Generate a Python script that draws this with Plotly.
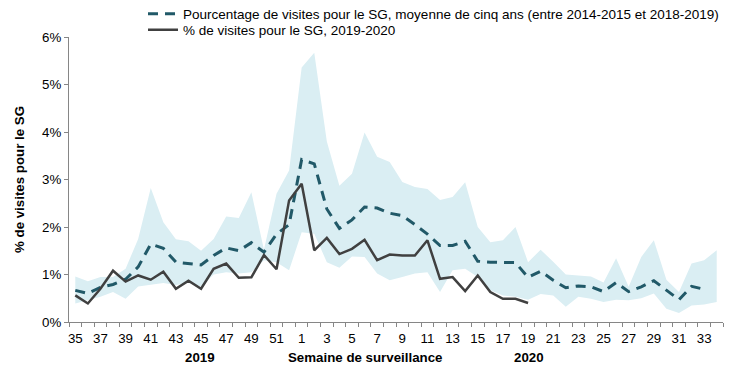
import plotly.graph_objects as go

weeks = [str(w) for w in list(range(35, 53)) + list(range(1, 35))]

current = [0.56, 0.39, 0.70, 1.08, 0.85, 0.98, 0.89, 1.06, 0.70, 0.87, 0.70, 1.12, 1.23, 0.93, 0.94, 1.41, 1.11, 2.56,
           2.91, 1.51, 1.77, 1.43, 1.54, 1.73, 1.30, 1.42, 1.40, 1.40, 1.72, 0.91, 0.945, 0.65, 0.98, 0.63, 0.49, 0.49, 0.40]

average = [0.665, 0.60, 0.73, 0.79, 0.90, 1.16, 1.64, 1.55, 1.26, 1.23, 1.20, 1.40, 1.56, 1.50, 1.67, 1.47, 1.85, 2.05,
           3.42, 3.33, 2.38, 1.97, 2.15, 2.42, 2.40, 2.29, 2.24, 2.05, 1.85, 1.61, 1.61, 1.70, 1.28, 1.26, 1.26, 1.25,
           0.94, 1.07, 0.88, 0.72, 0.76, 0.74, 0.64, 0.83, 0.64, 0.74, 0.87, 0.66, 0.47, 0.75, 0.69, None]

band_upper = [0.96, 0.86, 0.95, 0.95, 1.12, 1.75, 2.82, 2.10, 1.74, 1.70, 1.50, 1.75, 2.22, 2.19, 2.73, 1.52, 2.70, 3.19,
              5.36, 5.67, 3.80, 2.87, 3.12, 3.99, 3.48, 3.37, 2.95, 2.84, 2.80, 2.57, 2.63, 2.94, 2.00, 1.68, 1.72, 2.00,
              1.26, 1.52, 1.27, 1.00, 0.98, 0.96, 0.83, 1.34, 0.74, 1.37, 1.72, 0.89, 0.63, 1.23, 1.30, 1.51]

band_lower = [0.39, 0.46, 0.53, 0.63, 0.49, 0.75, 0.78, 0.82, 0.78, 0.82, 0.75, 1.00, 1.05, 1.02, 1.05, 1.30, 1.26, 1.09,
              1.89, 1.86, 1.26, 1.14, 1.38, 1.37, 1.02, 0.88, 0.95, 1.02, 1.05, 0.63, 1.09, 1.12, 0.95, 0.67, 0.56, 0.53,
              0.47, 0.59, 0.56, 0.32, 0.53, 0.49, 0.42, 0.47, 0.46, 0.50, 0.60, 0.28, 0.19, 0.35, 0.37, 0.42]

x_idx = list(range(len(weeks)))
FONT = "Liberation Sans, Arial, sans-serif"
FS = 13.3

# page body margin offset (browser default 8px)
OFF = 8
W, H = 750, 378
# target plot area in screen px: x 69..723, y 37..321.7
L = 69 - OFF
T = 37 - OFF
pw = 723 - 69
ph = 285
R = W - L - pw
B = H - T - ph

def px2paper_x(px):
    return (px - OFF - L) / pw

def px2paper_y(py):
    return (T + ph - (py - OFF)) / ph

fig = go.Figure()
fig.add_trace(go.Scatter(x=x_idx, y=band_lower, mode="lines", line=dict(width=0, color="#DAEEF3"),
                         showlegend=False, hoverinfo="skip"))
fig.add_trace(go.Scatter(x=x_idx, y=band_upper, mode="lines", line=dict(width=0, color="#DAEEF3"),
                         fill="tonexty", fillcolor="#DAEEF3", showlegend=False, hoverinfo="skip"))
fig.add_trace(go.Scatter(x=x_idx, y=average, mode="lines",
                         name="Pourcentage de visites pour le SG, moyenne de cinq ans (entre 2014-2015 et 2018-2019)",
                         line=dict(color="#215968", width=3, dash="10px,7px"), legend="legend"))
fig.add_trace(go.Scatter(x=x_idx[:len(current)], y=current, mode="lines",
                         name="% de visites pour le SG, 2019-2020",
                         line=dict(color="#404040", width=2.5), legend="legend2"))

leg_common = dict(xanchor="left", yanchor="middle", bgcolor="rgba(0,0,0,0)",
                  font=dict(size=13.5, family=FONT, color="#000000"), itemwidth=30)

ann_common = dict(xref="paper", yref="paper", showarrow=False, xanchor="center", yanchor="middle",
                  font=dict(size=FS, family=FONT, color="#000000"))

fig.update_layout(
    width=W, height=H,
    margin=dict(l=L, r=R, t=T, b=B, autoexpand=False),
    paper_bgcolor="white", plot_bgcolor="white",
    font=dict(family=FONT, size=FS, color="#000000"),
    showlegend=True,
    legend=dict(x=px2paper_x(143), y=px2paper_y(14), **leg_common),
    legend2=dict(x=px2paper_x(143), y=px2paper_y(30), **leg_common),
    xaxis=dict(range=[-0.5, len(weeks) - 0.5], tickmode="array",
               tickvals=x_idx[::2], ticktext=weeks[::2],
               ticks="", showline=True, linecolor="#868686", linewidth=1,
               showgrid=False, zeroline=False, tickfont=dict(size=FS),
               ticklabelstandoff=4,
               minor=dict(tickmode="linear", tick0=-0.5, dtick=1, ticks="outside",
                          ticklen=4, tickcolor="#868686", tickwidth=1, showgrid=False)),
    yaxis=dict(range=[0, 6], tickmode="linear", tick0=0, dtick=1, ticksuffix="%",
               ticks="outside", ticklen=4, tickcolor="#868686", showline=True,
               linecolor="#868686", linewidth=1, showgrid=False, zeroline=False,
               tickfont=dict(size=FS)),
    annotations=[
        dict(text="<b>2019</b>", x=px2paper_x(200), y=px2paper_y(357), **ann_common),
        dict(text="<b>Semaine de surveillance</b>", x=px2paper_x(365), y=px2paper_y(357), **ann_common),
        dict(text="<b>2020</b>", x=px2paper_x(529), y=px2paper_y(357), **ann_common),
        dict(text="<b>% de visites pour le SG</b>", x=px2paper_x(19), y=px2paper_y(180), textangle=-90,
             **ann_common),
    ],
)

fig.write_html("out.html")
